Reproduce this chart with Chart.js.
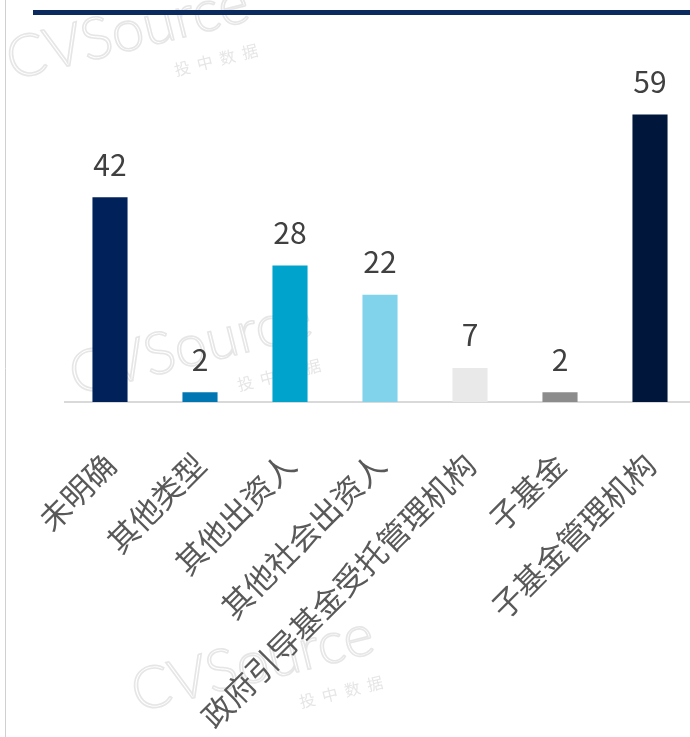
<!DOCTYPE html>
<html lang="zh">
<head>
  <meta charset="UTF-8" />
  <title>出资人类型分布</title>
  <script src="https://cdn.jsdelivr.net/npm/chart.js"></script>
  <style>
    html, body { margin: 0; padding: 0; overflow: hidden; background: #fff; }
    .chart-container { width: 710px; height: 737px; position: relative; }
  </style>
</head>
<body>
  <div class="chart-container">
    <canvas id="barChart"></canvas>
  </div>

  <script>
    const categories = ['未明确', '其他类型', '其他出资人', '其他社会出资人', '政府引导基金受托管理机构', '子基金', '子基金管理机构'];
    const counts = [42, 2, 28, 22, 7, 2, 59];
    const barColors = ['#00215a', '#0077b3', '#00a3cc', '#80d3ea', '#e9e9e9', '#8c8c8c', '#00163a'];

    const FONT = '"Noto Sans CJK SC", "Noto Sans", sans-serif';

    // background decorations: watermark, frame line, top rule
    const decorPlugin = {
      id: 'decor',
      beforeDraw(chart) {
        const ctx = chart.ctx;
        ctx.save();
        // left frame line
        ctx.strokeStyle = '#d0d0d0';
        ctx.lineWidth = 1;
        ctx.beginPath();
        ctx.moveTo(5.5, 0);
        ctx.lineTo(5.5, chart.height);
        ctx.stroke();
        // watermarks
        const marks = [[12, 80], [75, 395], [137, 712]];
        marks.forEach(([x, y]) => {
          ctx.save();
          ctx.translate(x, y);
          ctx.rotate(-14 * Math.PI / 180);
          ctx.font = '300 58px Lato, sans-serif';
          ctx.strokeStyle = '#e6e6e6';
          ctx.lineWidth = 1.6;
          ctx.strokeText('CVSource', 0, 0);
          ctx.font = '16px ' + FONT;
          ctx.fillStyle = '#e6e6e6';
          ctx.fillText('投  中  数  据', 160, 36);
          ctx.restore();
        });
        // top rule
        ctx.fillStyle = '#0b2a5e';
        ctx.fillRect(33, 10, 690 - 33, 5);
        ctx.restore();
      }
    };

    // value labels above bars
    const valueLabels = {
      id: 'valueLabels',
      afterDatasetsDraw(chart) {
        const ctx = chart.ctx;
        const meta = chart.getDatasetMeta(0);
        ctx.save();
        ctx.font = '30px ' + FONT;
        ctx.fillStyle = '#404040';
        ctx.textAlign = 'center';
        ctx.textBaseline = 'bottom';
        meta.data.forEach((bar, i) => {
          ctx.fillText(String(counts[i]), bar.x, bar.y - 18);
        });
        ctx.restore();
      }
    };

    new Chart(document.getElementById('barChart'), {
      type: 'bar',
      data: {
        labels: categories,
        datasets: [{
          data: counts,
          backgroundColor: barColors,
          borderWidth: 0,
          barPercentage: 0.39,
          categoryPercentage: 1
        }]
      },
      options: {
        responsive: true,
        maintainAspectRatio: false,
        animation: false,
        layout: { padding: { left: 65, right: 15, top: 12, bottom: 0 } },
        plugins: {
          legend: { display: false },
          tooltip: { enabled: false }
        },
        scales: {
          x: {
            grid: { display: false, drawTicks: false },
            border: { color: '#d9d9d9', width: 2 },
            ticks: {
              color: '#595959',
              font: { family: FONT, size: 31 },
              maxRotation: 45,
              minRotation: 45,
              autoSkip: false,
              padding: 44
            },
            afterFit(scale) {
              scale.height = 335;
              scale.paddingLeft = 0;
              scale.paddingRight = 0;
            }
          },
          y: {
            display: false,
            min: 0,
            max: 80
          }
        }
      },
      plugins: [decorPlugin, valueLabels]
    });
  </script>
</body>
</html>
